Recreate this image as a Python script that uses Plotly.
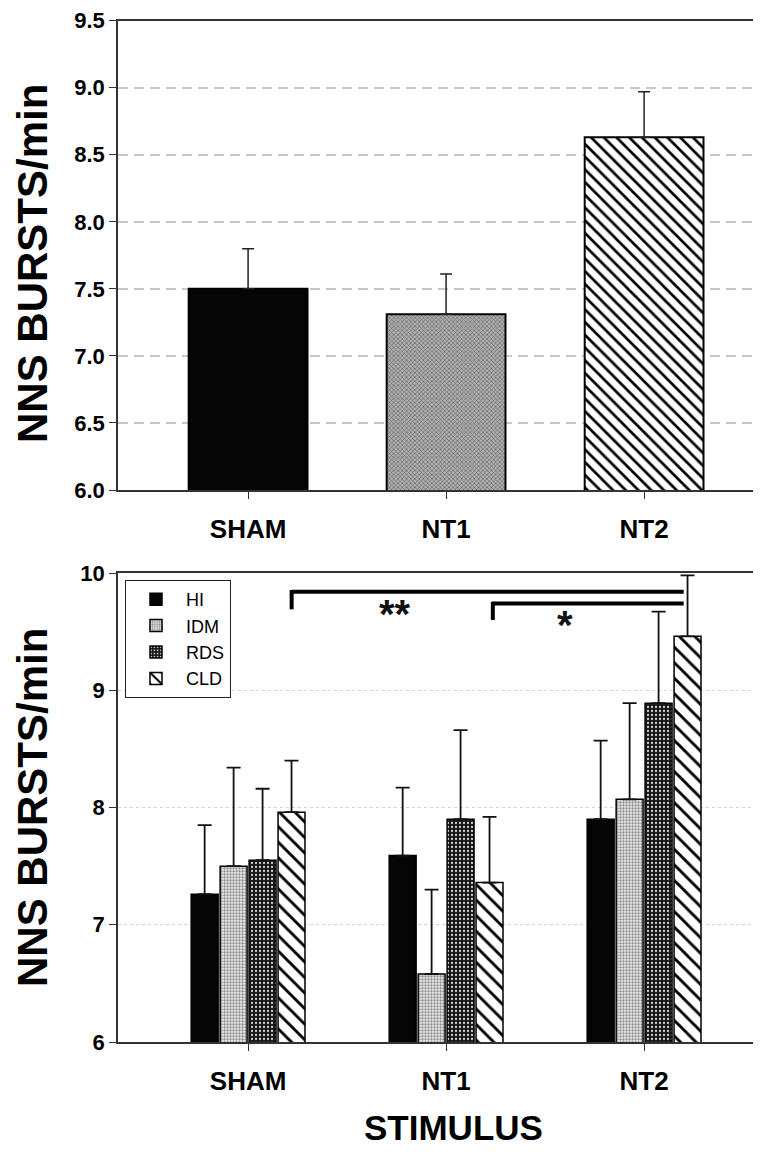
import plotly.graph_objects as go

# ---------------- data ----------------
categories = ["SHAM", "NT1", "NT2"]

# top panel: all infants
overall_mean = [7.50, 7.31, 8.63]
overall_se = [0.30, 0.30, 0.34]

# bottom panel: by diagnosis group
groups = ["HI", "IDM", "RDS", "CLD"]
hi_mean = [7.26, 7.59, 7.90]
hi_se = [0.59, 0.58, 0.67]
idm_mean = [7.50, 6.58, 8.07]
idm_se = [0.84, 0.72, 0.82]
rds_mean = [7.55, 7.90, 8.89]
rds_se = [0.61, 0.76, 0.78]
cld_mean = [7.96, 7.36, 9.46]
cld_se = [0.44, 0.56, 0.52]

FONT = "Arial, Liberation Sans, sans-serif"
OFF = 8                      # default page margin of the html body
W, H = 761 - 2 * OFF, 1155 - 2 * OFF

def px(p):   # page x pixel -> paper fraction
    return (p - OFF) / W

def py(p):   # page y pixel -> paper fraction
    return (H - (p - OFF)) / H

fig = go.Figure()

# ---- top panel: one bar per stimulus, same offset group ----
top_styles = [
    dict(color="#050505", pattern=dict(shape="")),
    dict(color="#9a9a9a", pattern=dict(shape="x", fgcolor="#4a4a4a",
                                       bgcolor="#b0b0b0", size=3, solidity=0.3)),
    dict(color="white", pattern=dict(shape="\\", fgcolor="black",
                                     bgcolor="white", size=9, solidity=0.3)),
]
for i, cat in enumerate(categories):
    st = top_styles[i]
    fig.add_trace(go.Bar(
        x=[cat], y=[overall_mean[i]], width=0.6, offsetgroup="all",
        marker=dict(color=st["color"], line=dict(color="black", width=2),
                    pattern=st["pattern"]),
        error_y=dict(type="data", symmetric=False, array=[overall_se[i]],
                     arrayminus=[0], color="#222", thickness=1.5, width=6),
        showlegend=False, xaxis="x", yaxis="y",
    ))

# ---- bottom panel ----
styles = {
    "HI": dict(color="#050505", pattern=dict(shape="")),
    "IDM": dict(color="#dcdcdc", pattern=dict(shape=".", fgcolor="#8a8a8a",
                                              bgcolor="#ececec", size=3, solidity=0.45)),
    "RDS": dict(color="#202020", pattern=dict(shape=".", fgcolor="#cfcfcf",
                                              bgcolor="#161616", size=4, solidity=0.25)),
    "CLD": dict(color="white", pattern=dict(shape="\\", fgcolor="black",
                                            bgcolor="white", size=11, solidity=0.26)),
}
series = {"HI": (hi_mean, hi_se), "IDM": (idm_mean, idm_se),
          "RDS": (rds_mean, rds_se), "CLD": (cld_mean, cld_se)}

for g in groups:
    m, se = series[g]
    st = styles[g]
    fig.add_trace(go.Bar(
        name=g, x=categories, y=m,
        marker=dict(color=st["color"], line=dict(color="black", width=1.5),
                    pattern=st["pattern"]),
        error_y=dict(type="data", symmetric=False, array=se,
                     arrayminus=[0] * len(se),
                     color="#111", thickness=1.8, width=7),
        xaxis="x2", yaxis="y2",
    ))

xdom = [px(118), 1.0]
xrange = [-0.657, 2.55]

axis_common = dict(
    showline=True, linecolor="#333", linewidth=1.5,
    ticks="outside", ticklen=7, tickcolor="#333", tickwidth=1,
    automargin=False,
)
xtick_font = dict(size=26, family=FONT, color="black", weight="bold")
ytick_font = dict(size=22, family=FONT, color="black", weight="bold")

fig.update_layout(
    template="none",
    width=W, height=H, autosize=False,
    margin=dict(l=0, r=0, t=0, b=0, pad=0),
    paper_bgcolor="white", plot_bgcolor="white",
    font=dict(family=FONT, color="black"),
    barmode="group", bargap=0.415, bargroupgap=0.07,
    xaxis=dict(domain=xdom, anchor="y", type="category",
               range=xrange, mirror=True, showgrid=False,
               tickfont=xtick_font, ticklabelstandoff=8, **axis_common),
    yaxis=dict(domain=[py(490), py(20.7)], anchor="x",
               range=[6, 9.5], dtick=0.5, tickformat=".1f",
               showgrid=True, gridcolor="#c8c8c8", gridwidth=1.5,
               griddash="10px,6px", zeroline=False,
               tickfont=ytick_font, **axis_common),
    xaxis2=dict(domain=xdom, anchor="y2", type="category",
                range=xrange, mirror=True, showgrid=False,
                tickfont=xtick_font, ticklabelstandoff=8, **axis_common),
    yaxis2=dict(domain=[py(1042), py(573)], anchor="x2",
                range=[6, 10], dtick=1,
                showgrid=True, gridcolor="#d4d4d4", gridwidth=1.2,
                griddash="dot", zeroline=False,
                tickfont=ytick_font, **axis_common),
    legend=dict(
        x=px(125), y=py(580), xanchor="left", yanchor="top",
        bordercolor="#222", borderwidth=1, bgcolor="white",
        font=dict(family=FONT, size=18, color="black"),
        traceorder="normal", itemwidth=50,
    ),
)

# significance brackets (bottom panel)
brackets = [
    # x_left, x_right, y_bar, y_leg_bottom
    (0.22, 2.20, 9.84, 9.69),
    (1.236, 2.20, 9.74, 9.60),
]
for x0, x1, yb, yl in brackets:
    fig.add_shape(type="line", xref="x2", yref="y2", x0=x0, x1=x1, y0=yb, y1=yb,
                  line=dict(color="black", width=4))
    fig.add_shape(type="line", xref="x2", yref="y2", x0=x0, x1=x0, y0=yb + 0.015, y1=yl,
                  line=dict(color="black", width=4))

fig.add_annotation(x=0.744, y=9.65, xref="x2", yref="y2", text="<b>**</b>",
                   showarrow=False, xanchor="center", yanchor="middle",
                   font=dict(size=40, family=FONT, color="#111"))
fig.add_annotation(x=1.6, y=9.56, xref="x2", yref="y2", text="<b>*</b>",
                   showarrow=False, xanchor="center", yanchor="middle",
                   font=dict(size=40, family=FONT, color="#111"))

# axis titles
for yc in (264, 808):
    fig.add_annotation(x=px(32), y=py(yc), xref="paper", yref="paper",
                       xanchor="center", yanchor="middle",
                       text="<b>NNS BURSTS/min</b>", textangle=-90, showarrow=False,
                       font=dict(size=42, family=FONT, color="black"))
fig.add_annotation(x=px(453), y=0, xref="paper", yref="paper",
                   xanchor="center", yanchor="bottom", yshift=-2,
                   text="<b>STIMULUS</b>", showarrow=False,
                   font=dict(size=35, family=FONT, color="black"))

fig.write_html("out.html")
